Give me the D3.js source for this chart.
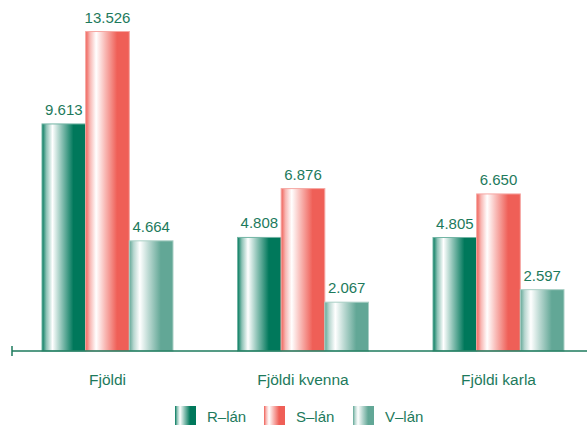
<!DOCTYPE html>
<html>
<head>
<meta charset="utf-8">
<title>Fjöldi eftir lánum</title>
<style>
  body { margin: 0; background: #fff; }
  text { font-family: "Liberation Sans", Arial, sans-serif; }
</style>
</head>
<body>
<svg width="587" height="430"></svg>
<script src="https://d3js.org/d3.v7.min.js"></script>
<script>

// data
var categories = ["Fjöldi", "Fjöldi kvenna", "Fjöldi karla"];
var seriesNames = ["R\u2013lán", "S\u2013lán", "V\u2013lán"];
var rLan = [9.613, 4.808, 4.805];
var sLan = [13.526, 6.876, 6.650];
var vLan = [4.664, 2.067, 2.597];

var seriesColors = ["#00785b", "#ef5f57", "#62a796"];
var textColor = "#1d7a5c";

var svg = d3.select("svg"),
    width = +svg.attr("width"),
    height = +svg.attr("height");

var baseY = 351;

var x0 = d3.scalePoint()
    .domain(categories)
    .range([107.5, 498.5]);

var x1 = d3.scaleBand()
    .domain(seriesNames)
    .range([-65.5, 65.5]);

var y = d3.scaleLinear()
    .domain([0, 14])
    .range([baseY, baseY - 14 * 23.62]);

var fmt = function(v) { return v.toFixed(3); };

var rows = categories.map(function(c, i) {
  return {cat: c, vals: [rLan[i], sLan[i], vLan[i]]};
});

// gradients for each series
var defs = svg.append("defs");
seriesColors.forEach(function(col, i) {
  var g = defs.append("linearGradient")
      .attr("id", "grad" + i)
      .attr("x1", "0%").attr("x2", "100%")
      .attr("y1", "0%").attr("y2", "0%");
  var mid = d3.interpolateRgb(col, "#fff")(0.55);
  g.append("stop").attr("offset", "0%").attr("stop-color", col);
  g.append("stop").attr("offset", "10%").attr("stop-color", mid);
  g.append("stop").attr("offset", "24%").attr("stop-color", "#fff");
  g.append("stop").attr("offset", "45%").attr("stop-color", mid);
  g.append("stop").attr("offset", "72%").attr("stop-color", col);
  g.append("stop").attr("offset", "100%").attr("stop-color", col);
});

var groups = svg.append("g").selectAll("g")
  .data(rows)
  .enter().append("g")
    .attr("transform", function(d) { return "translate(" + x0(d.cat) + ",0)"; });

var bars = groups.selectAll("g")
  .data(function(d) {
    return d.vals.map(function(v, i) { return {key: seriesNames[i], idx: i, value: v}; });
  })
  .enter().append("g");

bars.append("rect")
    .attr("x", function(d) { return x1(d.key); })
    .attr("y", function(d) { return y(d.value); })
    .attr("width", x1.bandwidth())
    .attr("height", function(d) { return baseY - y(d.value); })
    .attr("fill", function(d) { return "url(#grad" + d.idx + ")"; })
    .attr("stroke", function(d) { return d3.interpolateRgb(seriesColors[d.idx], "#fff")(0.45); })
    .attr("stroke-width", 1);

bars.append("text")
    .attr("x", function(d) { return x1(d.key) + x1.bandwidth() / 2; })
    .attr("y", function(d) { return y(d.value) - 9; })
    .attr("text-anchor", "middle")
    .attr("fill", textColor)
    .attr("font-size", 15)
    .text(function(d) { return fmt(d.value); });

// baseline axis
svg.append("line")
    .attr("x1", 12).attr("x2", width)
    .attr("y1", baseY).attr("y2", baseY)
    .attr("stroke", textColor)
    .attr("stroke-width", 1.5);

svg.append("line")
    .attr("x1", 12).attr("x2", 12)
    .attr("y1", baseY - 5).attr("y2", baseY + 5)
    .attr("stroke", textColor)
    .attr("stroke-width", 1.5);

svg.append("g").selectAll("text")
  .data(categories)
  .enter().append("text")
    .attr("x", function(d) { return x0(d); })
    .attr("y", 385)
    .attr("text-anchor", "middle")
    .attr("fill", textColor)
    .attr("font-size", 15.5)
    .text(function(d) { return d; });

// legend
var legX = [175, 264, 353];
var legend = svg.append("g").selectAll("g")
  .data(seriesNames)
  .enter().append("g")
    .attr("transform", function(d, i) { return "translate(" + legX[i] + ",406)"; });

legend.append("rect")
    .attr("width", 21)
    .attr("height", 19)
    .attr("fill", function(d, i) { return "url(#grad" + i + ")"; });

legend.append("text")
    .attr("x", 32)
    .attr("y", 16)
    .attr("fill", textColor)
    .attr("font-size", 15)
    .text(function(d) { return d; });

</script>
</body>
</html>
